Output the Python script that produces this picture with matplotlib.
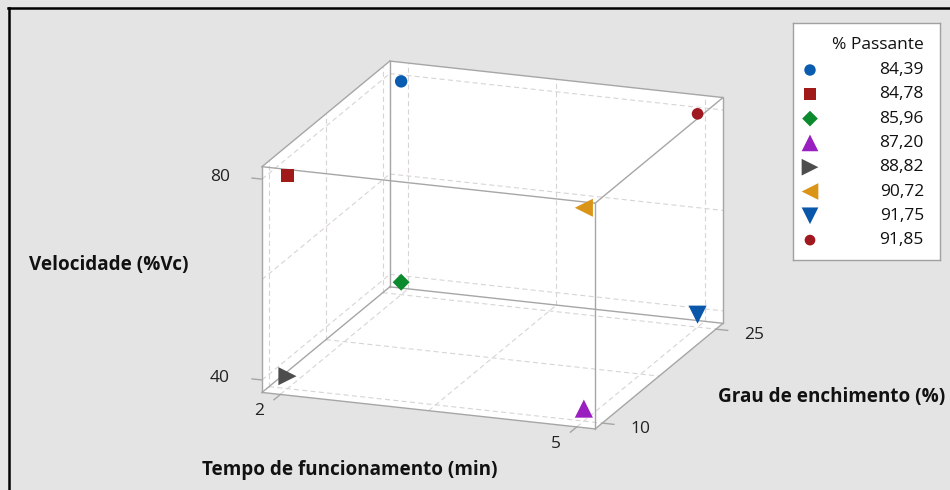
import numpy as np
import matplotlib
matplotlib.use("Agg")
import matplotlib.pyplot as plt
from matplotlib.lines import Line2D
from mpl_toolkits.mplot3d import proj3d
from mpl_toolkits.mplot3d.art3d import Poly3DCollection

plt.rcParams['font.family'] = ['Open Sans', 'DejaVu Sans']

# -----------------------
# DATA
# -----------------------
tempo = [2, 2, 2, 5, 2, 5, 5, 5]
grau = [25, 10, 25, 10, 10, 10, 25, 25]
velocidade = [80, 80, 40, 40, 40, 80, 40, 80]
passante = [84.39, 84.78, 85.96, 87.20, 88.82, 90.72, 91.75, 91.85]

tempo_ticks = [2, 5]
grau_ticks = [10, 25]
vel_ticks = [40, 80]

markers = ['o', 's', 'D', '^', '>', '<', 'v', 'o']
colors = ['#0a5cb0', '#a11a1a', '#0c8a2e', '#9a1fc0',
          '#4d4d4d', '#da9418', '#0a56a8', '#a01820']
sizes = [80, 85, 75, 170, 170, 170, 170, 70]

W, H = 950, 490
BG = '#e4e4e4'
EDGE = '#a6a6a6'
GRID = '#d8d4d4'

fig = plt.figure(figsize=(W / 100, H / 100), dpi=100)
fig.patch.set_facecolor(BG)


def padded(v, frac=0.062):
    lo, hi = min(v), max(v)
    p = (hi - lo) * frac
    return lo - p, hi + p


def mid_ticks(v):
    lo, hi = min(v), max(v)
    return [lo, (lo + hi) / 2, hi]


xl = padded(tempo)
yl = padded(grau)
zl = padded(velocidade)
ASPECT = (352, 371, 235)

# square axes centred on the cube, cube scaled with zoom
ax = fig.add_axes([247.5 / W, 0, H / W, 1], projection='3d', proj_type='ortho')
ax.view_init(elev=17.5, azim=-70)
ax.set_box_aspect(ASPECT)
ax.set_xlim(xl)
ax.set_ylim(yl)
ax.set_zlim(zl)
ax.set_xticks([])
ax.set_yticks([])
ax.set_zticks([])
ax.set_axis_off()
ax.patch.set_alpha(0)
ax.computed_zorder = False

# -----------------------
# CUBE FACES (white back walls)
# -----------------------
x0, x1 = xl
y0, y1 = yl
z0, z1 = zl
faces = [
    [(x0, y0, z0), (x0, y1, z0), (x0, y1, z1), (x0, y0, z1)],
    [(x0, y1, z0), (x1, y1, z0), (x1, y1, z1), (x0, y1, z1)],
    [(x0, y0, z0), (x1, y0, z0), (x1, y1, z0), (x0, y1, z0)],
]
ax.add_collection3d(Poly3DCollection(faces, facecolor='white',
                                     edgecolor='none', zorder=1))

# -----------------------
# DASHED GRID ON BACK WALLS
# -----------------------
gkw = dict(color=GRID, lw=0.8, ls=(0, (4.5, 3)), zorder=2)
for g in mid_ticks(grau):
    ax.plot([x0, x0], [g, g], [z0, z1], **gkw)
    ax.plot([x0, x1], [g, g], [z0, z0], **gkw)
for t in mid_ticks(tempo):
    ax.plot([t, t], [y1, y1], [z0, z1], **gkw)
    ax.plot([t, t], [y0, y1], [z0, z0], **gkw)
for v in mid_ticks(velocidade):
    ax.plot([x0, x0], [y0, y1], [v, v], **gkw)
    ax.plot([x0, x1], [y1, y1], [v, v], **gkw)

# -----------------------
# CUBE EDGES
# -----------------------
ekw = dict(color=EDGE, lw=1.0, zorder=3)
for a in (y0, y1):
    for b in (z0, z1):
        ax.plot([x0, x1], [a, a], [b, b], **ekw)
for a in (x0, x1):
    for b in (z0, z1):
        ax.plot([a, a], [y0, y1], [b, b], **ekw)
for a in (x0, x1):
    for b in (y0, y1):
        ax.plot([a, a], [b, b], [z0, z1], **ekw)

# -----------------------
# TICK MARKS
# -----------------------
xr, yr = x1 - x0, y1 - y0
tkw = dict(color=EDGE, lw=1.0, zorder=3, clip_on=False)
for t in tempo_ticks:
    ax.plot([t, t], [y0, y0 - 0.05 * yr], [z0, z0], **tkw)
for g in grau_ticks:
    ax.plot([x1, x1 + 0.035 * xr], [g, g], [z0, z0], **tkw)
for v in vel_ticks:
    ax.plot([x0, x0 - 0.03 * xr], [y0, y0], [v, v], **tkw)

# -----------------------
# POINTS
# -----------------------
for i in range(len(passante)):
    ax.scatter([tempo[i]], [grau[i]], [velocidade[i]], marker=markers[i],
               s=sizes[i], c=colors[i], edgecolors='none', depthshade=False,
               zorder=4)


# -----------------------
# FIT CUBE TO TARGET PIXEL BOX
# -----------------------
def to_px(xs, ys, zs):
    fig.canvas.draw()
    px, py, _ = proj3d.proj_transform(np.asarray(xs, float), np.asarray(ys, float),
                                      np.asarray(zs, float), ax.M)
    return ax.transData.transform(np.column_stack([px, py]))


cx, cy, cz = [a.ravel() for a in np.meshgrid(xl, yl, zl)]
P = to_px(cx, cy, cz)
w0 = P[:, 0].max() - P[:, 0].min()
ax.set_box_aspect(ASPECT, zoom=(723 - 262) / w0)

P = to_px(cx, cy, cz)
centre = (P.min(0) + P.max(0)) / 2
shift = np.array([(262 + 723) / 2, H - (62 + 428) / 2]) - centre
pos = ax.get_position()
ax.set_position([pos.x0 + shift[0] / W, pos.y0 + shift[1] / H, pos.width, pos.height])

# -----------------------
# TICK LABELS (placed from projected tick anchors)
# -----------------------
lab = dict(fontsize=12.5, color='#222222')
A = to_px(tempo_ticks, [y0] * len(tempo_ticks), [z0] * len(tempo_ticks))
for t, (xp, yp) in zip(tempo_ticks, A):
    fig.text((xp - 21) / W, (yp - 17) / H, str(t), ha='center', va='center', **lab)
A = to_px([x1] * len(grau_ticks), grau_ticks, [z0] * len(grau_ticks))
for g, (xp, yp) in zip(grau_ticks, A):
    fig.text((xp + 38) / W, (yp - 6) / H, str(g), ha='center', va='center', **lab)
A = to_px([x0] * len(vel_ticks), [y0] * len(vel_ticks), vel_ticks)
for v, (xp, yp) in zip(vel_ticks, A):
    fig.text((xp - 32) / W, (yp + 2) / H, str(v), ha='right', va='center', **lab)

# -----------------------
# AXIS LABELS
# -----------------------
bold = dict(fontsize=13.6, fontweight='bold', color='#111111')
fig.text(29 / W, 1 - 265 / H, 'Velocidade (%Vc)', ha='left', va='center', **bold)
fig.text(350 / W, 1 - 470 / H, 'Tempo de funcionamento (min)', ha='center', va='center', **bold)
fig.text(718 / W, 1 - 397 / H, 'Grau de enchimento (%)', ha='left', va='center', **bold)

# -----------------------
# LEGEND (manual)
# -----------------------
lx, ly, lw_, lh = 793, 23, 147, 237
lax = fig.add_axes([lx / W, 1 - (ly + lh) / H, lw_ / W, lh / H])
lax.set_xlim(0, lw_)
lax.set_ylim(lh, 0)
lax.set_xticks([])
lax.set_yticks([])
lax.set_facecolor('white')
for s in lax.spines.values():
    s.set_color('#a0a0a0')
    s.set_linewidth(1.0)
lax.text(131, 22, '% Passante', ha='right', va='center', fontsize=12.5, color='#111111')
for i, val in enumerate(passante):
    yy = 47 + 24.3 * i
    lax.scatter([17], [yy], marker=markers[i], s=sizes[i] * 0.85, c=colors[i],
                edgecolors='none', clip_on=False)
    lax.text(131, yy, f"{val:.2f}".replace('.', ','), ha='right', va='center',
             fontsize=12.5, color='#111111')

# -----------------------
# FRAME (left + top)
# -----------------------
fig.add_artist(Line2D([9.3 / W, 9.3 / W], [0, 1 - 7.8 / H], color='black', lw=1.8,
                      transform=fig.transFigure))
fig.add_artist(Line2D([8.4 / W, 1], [1 - 7.8 / H, 1 - 7.8 / H], color='black', lw=1.8,
                      transform=fig.transFigure))

fig.savefig('out.png', dpi=100, facecolor=fig.get_facecolor())
